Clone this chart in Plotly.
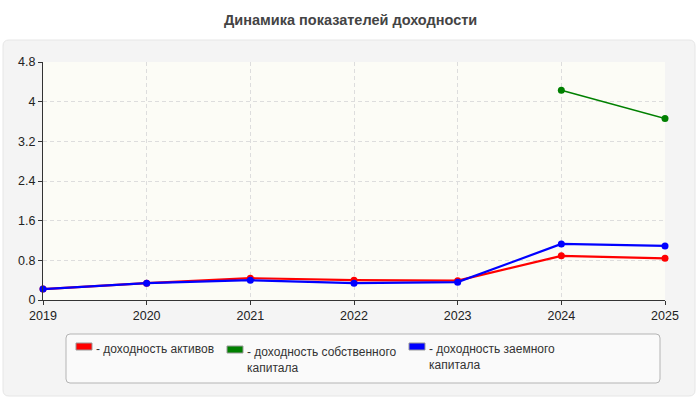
import plotly.graph_objects as go

years = [2019, 2020, 2021, 2022, 2023, 2024, 2025]
roa = [0.22, 0.34, 0.44, 0.40, 0.39, 0.89, 0.84]          # доходность активов
roe = [None, None, None, None, None, 4.23, 3.66]          # доходность собственного капитала
rod = [0.22, 0.34, 0.40, 0.34, 0.36, 1.13, 1.09]          # доходность заемного капитала
y_ticks = [0, 0.8, 1.6, 2.4, 3.2, 4, 4.8]

names = ["доходность активов", "доходность собственного<br>капитала", "доходность заемного<br>капитала"]
colors = ["#ff0000", "#008000", "#0000ff"]

W, H = 700, 400
L, R, T, B = 43, 35, 62, 100
pw, ph = W - L - R, H - T - B


def px(x, y):
    # pixel -> paper coords
    return (x - L) / pw, (H - B - y) / ph


def rounded(x0, y0, x1, y1, r):
    pts = []
    ax, ay = px(x0 + r, y0); pts.append(f"M{ax},{ay}")
    ax, ay = px(x1 - r, y0); pts.append(f"L{ax},{ay}")
    ax, ay = px(x1, y0 + r); pts.append(f"Q{px(x1, y0)[0]},{px(x1, y0)[1]} {ax},{ay}")
    ax, ay = px(x1, y1 - r); pts.append(f"L{ax},{ay}")
    ax, ay = px(x1 - r, y1); pts.append(f"Q{px(x1, y1)[0]},{px(x1, y1)[1]} {ax},{ay}")
    ax, ay = px(x0 + r, y1); pts.append(f"L{ax},{ay}")
    ax, ay = px(x0, y1 - r); pts.append(f"Q{px(x0, y1)[0]},{px(x0, y1)[1]} {ax},{ay}")
    ax, ay = px(x0, y0 + r); pts.append(f"L{ax},{ay}")
    ax, ay = px(x0 + r, y0); pts.append(f"Q{px(x0, y0)[0]},{px(x0, y0)[1]} {ax},{ay}")
    return " ".join(pts) + " Z"


fig = go.Figure()
for vals, c, w in [(roa, colors[0], 2.2), (roe, colors[1], 1.6), (rod, colors[2], 2.2)]:
    fig.add_trace(go.Scatter(x=years, y=vals, mode="lines+markers",
                             line=dict(color=c, width=w),
                             marker=dict(color=c, size=7), showlegend=False,
                             cliponaxis=False))

shapes = [
    dict(type="path", xref="paper", yref="paper", path=rounded(3, 40, 695, 396, 6),
         fillcolor="#f4f4f4", line=dict(color="#e6e6e6", width=1), layer="below"),
    dict(type="rect", xref="paper", yref="paper", x0=0, y0=0, x1=1, y1=1,
         fillcolor="#fcfcf6", line=dict(width=0), layer="below"),
    dict(type="path", xref="paper", yref="paper", path=rounded(66, 334, 660, 383, 4),
         fillcolor="#fafafa", line=dict(color="#b4b4b4", width=1)),
]
annotations = [
    dict(text="<b>Динамика показателей доходности</b>", xref="paper", yref="paper",
         x=px(350, 20)[0], y=px(350, 20)[1], showarrow=False,
         font=dict(size=14.5, color="#444444"), xanchor="center", yanchor="middle"),
]
legend_pos = [(76, 343), (227, 346), (409, 343)]
for (lx, ly), name, c in zip(legend_pos, names, colors):
    x0, y0 = px(lx, ly)
    x1, y1 = px(lx + 16, ly + 7)
    shapes.append(dict(type="rect", xref="paper", yref="paper", x0=x0, y0=y1, x1=x1, y1=y0,
                       fillcolor=c, line=dict(color="#999999", width=1)))
    tx, ty = px(lx + 18, ly - 3)
    annotations.append(dict(text="- " + name, xref="paper", yref="paper", x=tx, y=ty,
                            showarrow=False, xanchor="left", yanchor="top", align="left",
                            font=dict(size=12, color="#333333")))

fig.update_layout(
    width=W, height=H,
    margin=dict(l=L, r=R, t=T, b=B),
    paper_bgcolor="#ffffff", plot_bgcolor="rgba(0,0,0,0)",
    font=dict(family="Liberation Sans, Arial, sans-serif", size=12.5, color="#222222"),
    shapes=shapes, annotations=annotations,
    xaxis=dict(range=[2019, 2025], tickvals=years, showgrid=True, gridcolor="#dddddd",
               griddash="4px,3px", zeroline=False, showline=True, linecolor="#333333",
               ticks="outside", ticklen=4, tickcolor="#333333", fixedrange=True),
    yaxis=dict(range=[0, 4.8], tickvals=y_ticks, ticktext=["0", "0.8", "1.6", "2.4", "3.2", "4", "4.8"],
               showgrid=True, gridcolor="#dddddd", griddash="4px,3px", zeroline=False,
               showline=True, linecolor="#333333", ticks="outside", ticklen=4,
               tickcolor="#333333", fixedrange=True),
)
fig.write_html("out.html", config={"displayModeBar": False},
               post_script="document.body.style.margin='0';")
